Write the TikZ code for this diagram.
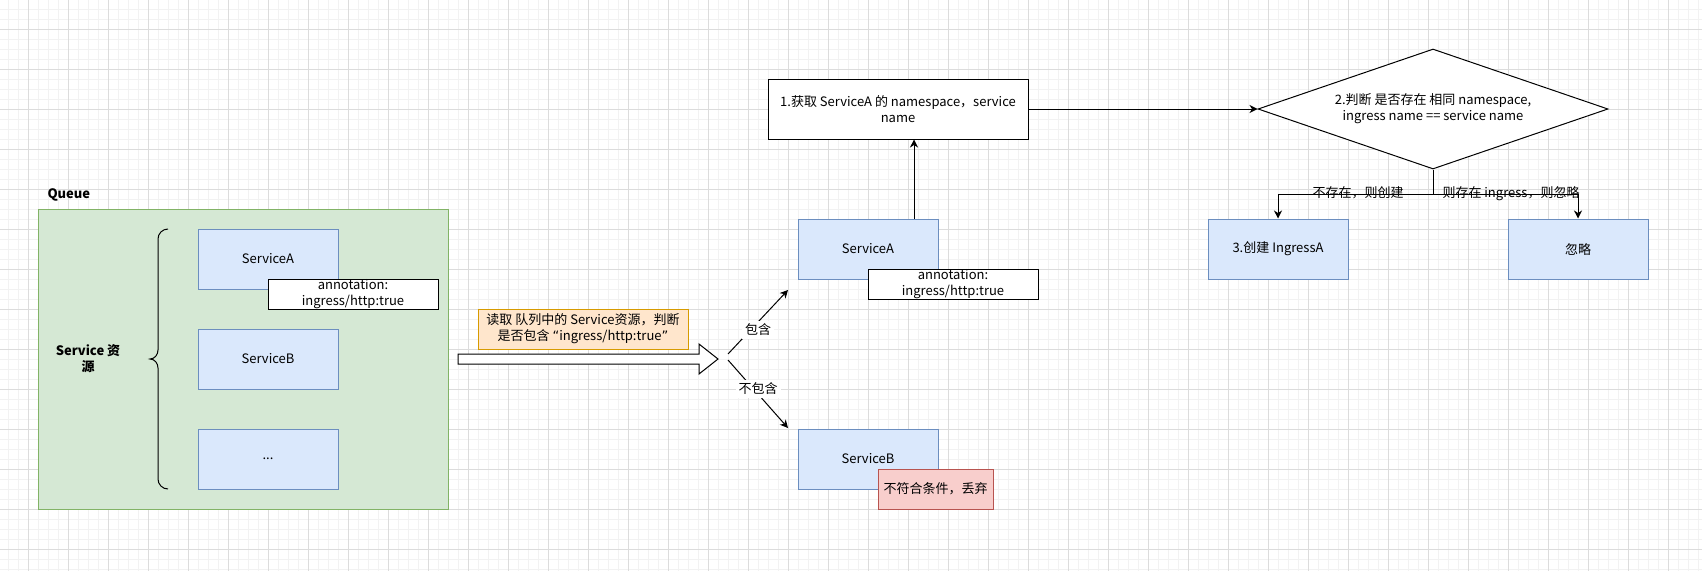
\documentclass[tikz,border=0pt]{standalone}
\usepackage{fontspec}
\setmainfont{Noto Sans CJK SC}
\newfontfamily\quotefont{DejaVu Sans}
\usetikzlibrary{shapes.geometric,arrows.meta}
\definecolor{bluefill}{HTML}{DAE8FC}
\definecolor{blueline}{HTML}{6C8EBF}
\definecolor{greenfill}{HTML}{D5E8D4}
\definecolor{greenline}{HTML}{82B366}
\definecolor{orfill}{HTML}{FFE6CC}
\definecolor{orline}{HTML}{D79B00}
\definecolor{redfill}{HTML}{F8CECC}
\definecolor{redline}{HTML}{B85450}
\definecolor{gridminor}{HTML}{F2F2F2}
\definecolor{gridmajor}{HTML}{DCDCDC}
\begin{document}
\begin{tikzpicture}[x=1pt,y=-1pt,line width=1pt,
  every node/.style={font=\fontsize{13}{16}\selectfont,inner sep=0pt,align=center},
  svc/.style={draw=blueline,fill=bluefill,minimum width=140pt,minimum height=60pt},
  note/.style={draw=black,fill=white,minimum width=170pt,minimum height=30pt},
  arr/.style={-{Stealth[length=8pt,width=8pt,inset=2.5pt]}},
  lbl/.style={fill=white,inner sep=3pt},
  boldtxt/.style={font=\bfseries\fontsize{13}{16}\selectfont}]
\fill[white] (0,0) rectangle (1702,571);
\useasboundingbox (0,0) rectangle (1702,571);
\foreach \x in {8,18,...,1698} \draw[gridminor] (\x,0) -- (\x,571);
\foreach \y in {9,19,...,569} \draw[gridminor] (0,\y) -- (1702,\y);
\foreach \x in {28,68,...,1668} \draw[gridmajor] (\x,0) -- (\x,571);
\foreach \y in {29,69,...,549} \draw[gridmajor] (0,\y) -- (1702,\y);

% Queue container
\node[draw=greenline,fill=greenfill,minimum width=410pt,minimum height=300pt] (queue) at (243,359) {};
\node[boldtxt,anchor=west] (qlabel) at (47,195) {Queue};
\node[boldtxt] (reslabel) at (88,359) {Service 资\\源};
\draw (168,229) to[out=180,in=90] (158,239) -- (158,350) to[out=-90,in=0] (150,359)
      to[out=0,in=90] (158,368) -- (158,479) to[out=-90,in=180] (168,489);
\node[svc] (sa1) at (268,259) {ServiceA};
\node[note] (note1) at (353,294) {annotation:\\ingress/http:true};
\node[svc] (sb1) at (268,359) {ServiceB};
\node[svc] (sd) at (268,459) {...};

% read label and big arrow
\node[draw=orline,fill=orfill,minimum width=210pt,minimum height=40pt] (read) at (583,329)
  {读取 队列中的 Service资源，判断\\是否包含 {\quotefont “}ingress/http:true{\quotefont ”}};
\coordinate (ha) at (458,354);
\coordinate (tip) at (718,359);
\draw[fill=white] (ha) -- (699,354) -- (699,344) -- (tip) -- (699,374) -- (699,364) -- (458,364) -- cycle;

% branches
\coordinate (s1) at (728,354);
\coordinate (t1) at (788,290);
\coordinate (s2) at (728,360);
\coordinate (t2) at (788,428);
\draw[arr] (s1) -- (t1);
\draw[arr] (s2) -- (t2);
\node[lbl] (inc) at (758,330) {包含};
\node[lbl] (notinc) at (758,389) {不包含};

% right column
\node[svc] (sa2) at (868,249) {ServiceA};
\node[note] (note2) at (953,284) {annotation:\\ingress/http:true};
\node[svc] (sb2) at (868,459) {ServiceB};
\node[draw=redline,fill=redfill,minimum width=115pt,minimum height=40pt] (drop) at (935.5,489) {不符合条件，丢弃};

\node[draw=black,fill=white,minimum width=260pt,minimum height=60pt] (b1) at (898,109)
  {1.获取 ServiceA 的 namespace，service\\name};
\node[diamond,draw=black,fill=white,minimum width=350pt,minimum height=120pt,aspect=2.9] (dia) at (1433,109)
  {2.判断 是否存在 相同 namespace,\\ingress name == service name};
\node[svc] (n3) at (1278,249) {3.创建 IngressA};
\node[svc] (ign) at (1578,249) {忽略};

\draw[arr] ([xshift=46pt]sa2.north) -- ([xshift=46pt]sa2.north |- b1.south);
\draw[arr] (b1.east) -- (dia.west);
\draw[arr] (dia.south) -- ++(0,25) coordinate (fork) -| (n3.north);
\draw[arr] (fork) -| (ign.north);
\node (l1) at (1358,193) {不存在，则创建};
\node (l2) at (1511,194) {则存在 ingress，则忽略};
\end{tikzpicture}
\end{document}
